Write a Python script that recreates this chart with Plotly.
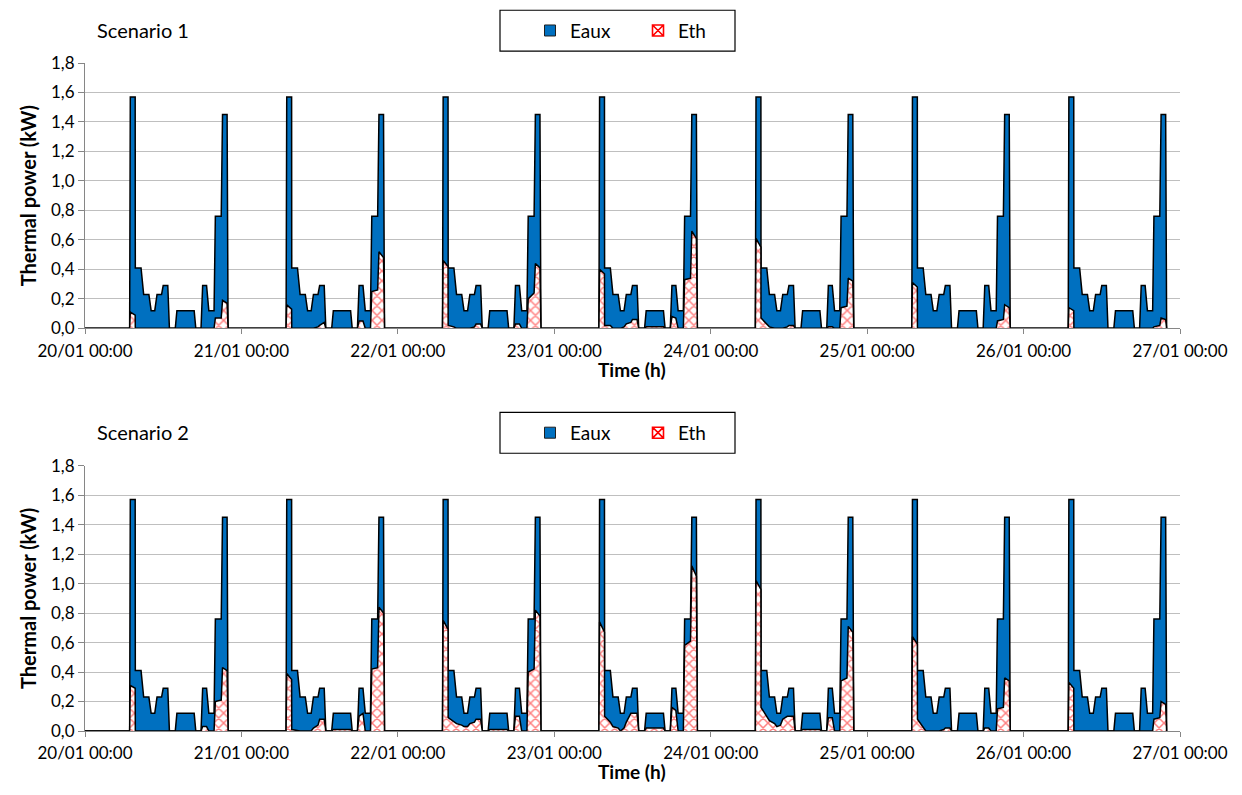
import pandas as pd
import plotly.graph_objects as go
from plotly.subplots import make_subplots

# Breakpoints of the daily load profile (hours after midnight)
hours = [0.0, 6.85, 6.95, 7.70, 7.72, 8.60, 9.00, 9.80, 10.15, 10.70,
         11.05, 11.75, 12.00, 12.70, 12.95, 13.85, 14.10, 16.75, 17.00, 17.80,
         18.05, 18.65, 19.00, 19.80, 20.00, 20.90, 21.10, 21.80, 21.95]

# Auxiliary heater power (kW), same profile every day
eaux_day = [0, 0, 1.57, 1.57, 0.41, 0.41, 0.23, 0.23, 0.12, 0.12,
            0.23, 0.23, 0.29, 0.29, 0, 0, 0.12, 0.12, 0, 0,
            0.29, 0.29, 0.12, 0.12, 0.76, 0.76, 1.45, 1.45, 0]

# Thermal (solar) contribution per day (kW), Scenario 1
eth_s1 = [
    [0, 0, 0.11, 0.09, 0, 0, 0, 0, 0, 0, 0, 0, 0, 0, 0, 0, 0, 0, 0, 0,
     0, 0, 0, 0, 0.07, 0.07, 0.19, 0.17, 0],
    [0, 0, 0.16, 0.13, 0, 0, 0, 0, 0, 0, 0, 0.01, 0.02, 0.04, 0, 0, 0, 0, 0, 0,
     0.05, 0.05, 0, 0, 0.25, 0.26, 0.52, 0.48, 0],
    [0, 0, 0.46, 0.42, 0.02, 0.01, 0, 0, 0, 0, 0, 0.01, 0.03, 0.03, 0, 0, 0, 0, 0, 0,
     0.03, 0.03, 0, 0, 0.20, 0.24, 0.44, 0.41, 0],
    [0, 0, 0.40, 0.37, 0.02, 0.02, 0, 0, 0, 0.01, 0.03, 0.04, 0.06, 0.06, 0, 0, 0.01, 0.01, 0, 0,
     0.08, 0.07, 0, 0, 0.33, 0.34, 0.66, 0.61, 0],
    [0, 0, 0.61, 0.55, 0.07, 0.03, 0.01, 0, 0, 0, 0, 0.01, 0.02, 0.02, 0, 0, 0, 0, 0, 0,
     0.01, 0.01, 0, 0, 0.14, 0.15, 0.34, 0.32, 0],
    [0, 0, 0.31, 0.28, 0, 0, 0, 0, 0, 0, 0, 0, 0, 0, 0, 0, 0, 0, 0, 0,
     0, 0, 0, 0, 0.05, 0.06, 0.16, 0.14, 0],
    [0, 0, 0.14, 0.12, 0, 0, 0, 0, 0, 0, 0, 0, 0, 0, 0, 0, 0, 0, 0, 0,
     0, 0, 0, 0, 0.01, 0.02, 0.07, 0.06, 0],
]

# Thermal (solar) contribution per day (kW), Scenario 2
eth_s2 = [
    [0, 0, 0.31, 0.29, 0, 0, 0, 0, 0, 0, 0, 0, 0, 0, 0, 0, 0, 0, 0, 0,
     0.03, 0.03, 0, 0, 0.20, 0.21, 0.43, 0.41, 0],
    [0, 0, 0.39, 0.35, 0.01, 0, 0, 0, 0, 0, 0.02, 0.04, 0.08, 0.08, 0, 0, 0.01, 0.01, 0, 0,
     0.10, 0.12, 0, 0, 0.42, 0.43, 0.84, 0.80, 0],
    [0, 0, 0.75, 0.69, 0.09, 0.06, 0.05, 0.04, 0.03, 0.03, 0.05, 0.06, 0.08, 0.08, 0, 0, 0.01, 0.01, 0, 0,
     0.10, 0.10, 0, 0, 0.40, 0.42, 0.82, 0.78, 0],
    [0, 0, 0.74, 0.67, 0.10, 0.06, 0.03, 0.02, 0, 0.02, 0.06, 0.12, 0.12, 0.12, 0, 0, 0.02, 0.02, 0, 0,
     0.16, 0.14, 0, 0, 0.58, 0.61, 1.12, 1.05, 0],
    [0, 0, 1.02, 0.96, 0.16, 0.10, 0.07, 0.05, 0.03, 0.04, 0.08, 0.10, 0.10, 0.10, 0, 0, 0.01, 0.01, 0, 0,
     0.09, 0.09, 0, 0, 0.34, 0.36, 0.71, 0.67, 0],
    [0, 0, 0.64, 0.59, 0.08, 0.02, 0, 0, 0, 0, 0, 0.01, 0.02, 0.02, 0, 0, 0, 0, 0, 0,
     0.02, 0.02, 0, 0, 0.15, 0.16, 0.36, 0.34, 0],
    [0, 0, 0.33, 0.29, 0, 0, 0, 0, 0, 0, 0, 0, 0, 0, 0, 0, 0, 0, 0, 0,
     0, 0, 0, 0, 0.08, 0.09, 0.20, 0.18, 0],
]

start = pd.Timestamp("2014-01-20 00:00")
n_days = 7
y_ticks = [0.0, 0.2, 0.4, 0.6, 0.8, 1.0, 1.2, 1.4, 1.6, 1.8]
panel_titles = ["Scenario 1", "Scenario 2"]

times = [start + pd.Timedelta(hours=d * 24 + h) for d in range(n_days) for h in hours]
eaux = [v for d in range(n_days) for v in eaux_day]

FONT = "Lato"
BLUE = "#0070C0"
GRID = "#BFBFBF"
AXIS = "#868686"

# Figure geometry (pixels) used to place boxes and labels in paper units
W, H = 1242, 795
ML, MR, MT, MB = 85, 62, 60, 64
PW, PH = W - ML - MR, H - MT - MB


def px(xpix):
    return (xpix - ML) / PW


def py(ypix):
    return (H - MB - ypix) / PH


fig = make_subplots(rows=2, cols=1, vertical_spacing=0.2056)

for row, eth_days in [(1, eth_s1), (2, eth_s2)]:
    eth = [v for day in eth_days for v in day]
    legend_name = "legend" if row == 1 else "legend2"
    fig.add_trace(go.Scatter(
        x=times, y=eaux, name="Eaux", mode="lines", fill="tozeroy",
        fillcolor=BLUE, line=dict(color="black", width=1.5),
        showlegend=False, hoverinfo="skip"), row=row, col=1)
    fig.add_trace(go.Scatter(
        x=times, y=eth, name="Eth", mode="lines", fill="tozeroy",
        fillcolor="white",
        fillpattern=dict(shape="x", fgcolor="#FF0000", bgcolor="white",
                         size=7, solidity=0.38),
        line=dict(color="black", width=1.5),
        showlegend=False, hoverinfo="skip"), row=row, col=1)
    # legend keys
    fig.add_trace(go.Scatter(
        x=[None], y=[None], name="Eaux", mode="markers",
        marker=dict(symbol="square", size=11, color=BLUE,
                    line=dict(color="#1F1F1F", width=1)),
        legend=legend_name), row=row, col=1)
    fig.add_trace(go.Scatter(
        x=[None], y=[None], name="Eth", mode="markers",
        marker=dict(symbol="square-x-open", size=11, color="#FF0000",
                    line=dict(color="#FF0000", width=1.6)),
        legend=legend_name), row=row, col=1)

for row in (1, 2):
    fig.update_xaxes(
        row=row, col=1, type="date",
        range=[start, start + pd.Timedelta(days=n_days)],
        dtick=86400000, tick0=start, tickformat="%d/%m %H:%M",
        ticks="outside", ticklen=5, tickcolor=AXIS, ticklabelstandoff=2,
        showline=True, linecolor=AXIS, linewidth=1,
        showgrid=False, zeroline=False,
        tickfont=dict(family=FONT, size=17, color="black"))
    fig.update_yaxes(
        row=row, col=1, range=[0, 1.8], tickvals=y_ticks, tickformat=".1f",
        ticks="outside", ticklen=6, tickcolor=AXIS,
        showline=True, linecolor=AXIS, linewidth=1,
        showgrid=True, gridcolor=GRID, gridwidth=1.3, zeroline=False,
        tickfont=dict(family=FONT, size=17, color="black"),
        title=dict(text="<b>Thermal power (kW)</b>", standoff=8,
                   font=dict(family=FONT, size=20, color="black")))

legend_style = dict(
    orientation="h", xanchor="center", yanchor="middle",
    borderwidth=0, bgcolor="rgba(0,0,0,0)",
    font=dict(family=FONT, size=19, color="black"),
    itemwidth=30, entrywidthmode="pixels", entrywidth=63)

annotations = []
shapes = []
for top_px, title in zip([0, 404], panel_titles):
    annotations.append(dict(
        text=title, x=px(95), y=py(top_px + 27), xref="paper", yref="paper",
        xanchor="left", yanchor="middle", showarrow=False,
        font=dict(family=FONT, size=20, color="black")))
    annotations.append(dict(
        text="<b>Time (h)</b>", x=px(632), y=py(top_px + 368),
        xref="paper", yref="paper", xanchor="center", yanchor="middle",
        showarrow=False, font=dict(family=FONT, size=19, color="black")))
    shapes.append(dict(
        type="rect", xref="paper", yref="paper",
        x0=px(500), x1=px(735), y0=py(top_px + 48), y1=py(top_px + 7),
        line=dict(color="black", width=1.2), fillcolor="white", layer="below"))

fig.update_layout(
    width=W, height=H,
    margin=dict(l=ML, r=MR, t=MT, b=MB),
    plot_bgcolor="white", paper_bgcolor="white",
    separators=",.",
    showlegend=True,
    legend=dict(x=px(638), y=py(27.5), **legend_style),
    legend2=dict(x=px(638), y=py(404 + 27.5), **legend_style),
    annotations=annotations,
    shapes=shapes,
)

fig.write_html("out.html")
